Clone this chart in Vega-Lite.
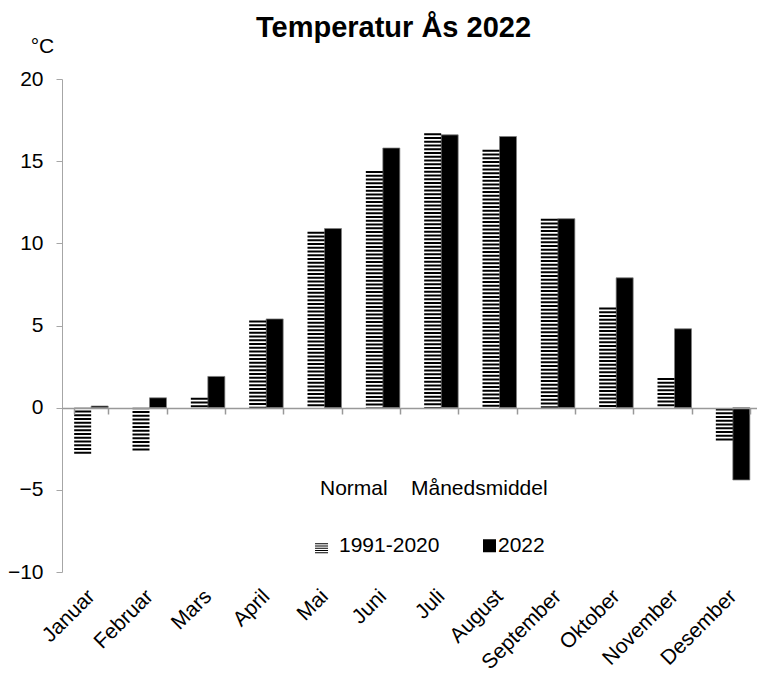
{
  "$schema": "https://vega.github.io/schema/vega-lite/v6.json",
  "width": 695,
  "height": 493,
  "autosize": {"type": "none"},
  "padding": {"left": 62, "top": 79, "right": 0, "bottom": 105},
  "background": "white",
  "config": {
    "font": "Liberation Sans",
    "view": {"stroke": null},
    "axis": {"labelFont": "Liberation Sans", "titleFont": "Liberation Sans", "labelColor": "black", "titleColor": "black"},
    "legend": {"labelFont": "Liberation Sans", "titleFont": "Liberation Sans"}
  },
  "title": {
    "text": "Temperatur Ås 2022",
    "font": "Liberation Sans",
    "fontSize": 29,
    "fontWeight": "bold",
    "color": "black",
    "anchor": "middle",
    "frame": "group",
    "baseline": "alphabetic",
    "offset": -31,
    "dx": -16
  },
  "data": {
    "values": [
      {"month": "Januar", "series": "1991-2020", "value": -2.8},
      {"month": "Januar", "series": "2022", "value": 0.1},
      {"month": "Februar", "series": "1991-2020", "value": -2.6},
      {"month": "Februar", "series": "2022", "value": 0.6},
      {"month": "Mars", "series": "1991-2020", "value": 0.6},
      {"month": "Mars", "series": "2022", "value": 1.9},
      {"month": "April", "series": "1991-2020", "value": 5.3},
      {"month": "April", "series": "2022", "value": 5.4},
      {"month": "Mai", "series": "1991-2020", "value": 10.7},
      {"month": "Mai", "series": "2022", "value": 10.9},
      {"month": "Juni", "series": "1991-2020", "value": 14.4},
      {"month": "Juni", "series": "2022", "value": 15.8},
      {"month": "Juli", "series": "1991-2020", "value": 16.7},
      {"month": "Juli", "series": "2022", "value": 16.6},
      {"month": "August", "series": "1991-2020", "value": 15.7},
      {"month": "August", "series": "2022", "value": 16.5},
      {"month": "September", "series": "1991-2020", "value": 11.5},
      {"month": "September", "series": "2022", "value": 11.5},
      {"month": "Oktober", "series": "1991-2020", "value": 6.1},
      {"month": "Oktober", "series": "2022", "value": 7.9},
      {"month": "November", "series": "1991-2020", "value": 1.8},
      {"month": "November", "series": "2022", "value": 4.8},
      {"month": "Desember", "series": "1991-2020", "value": -2.0},
      {"month": "Desember", "series": "2022", "value": -4.4}
    ]
  },
  "encoding": {
    "x": {
      "field": "month",
      "type": "nominal",
      "sort": null,
      "scale": {"paddingInner": 0.417, "paddingOuter": 0.2085, "range": [0, 700]},
      "axis": {
        "orient": "bottom",
        "offset": -164,
        "zindex": 1,
        "title": null,
        "domain": true,
        "domainColor": "#999999",
        "domainWidth": 1.5,
        "ticks": true,
        "tickColor": "#999999",
        "tickWidth": 1.5,
        "tickSize": 6,
        "tickBand": "extent",
        "labelAngle": -45,
        "labelAlign": "right",
        "labelBaseline": "middle",
        "labelFontSize": 21,
        "labelPadding": 179
      }
    },
    "xOffset": {"field": "series", "type": "nominal", "scale": {"domain": ["1991-2020", "2022"]}},
    "y": {
      "field": "value",
      "type": "quantitative",
      "scale": {"domain": [-10, 20], "nice": false, "zero": false},
      "axis": {
        "values": [-10, -5, 0, 5, 10, 15, 20],
        "grid": false,
        "domainColor": "#a6a6a6",
        "tickColor": "#a6a6a6",
        "tickSize": 6,
        "labelPadding": 13,
        "labelFontSize": 21,
        "title": "°C",
        "titleAngle": 0,
        "titleX": -20,
        "titleY": -27,
        "titleAlign": "center",
        "titleBaseline": "alphabetic",
        "titleFontSize": 21,
        "titleFontWeight": "normal"
      }
    }
  },
  "layer": [
    {
      "transform": [{"filter": "datum.series === '2022'"}],
      "mark": {"type": "bar", "fill": "black", "stroke": "#7f7f7f", "strokeWidth": 0.75}
    },
    {
      "transform": [{"filter": "datum.series === '1991-2020'"}],
      "mark": {"type": "rule", "stroke": "black", "strokeWidth": 17, "strokeDash": [2, 1.75]},
      "encoding": {
        "y2": {"datum": 0}
      }
    },
    {
      "mark": {"type": "point", "filled": true, "opacity": 0, "fill": "black", "strokeWidth": 0},
      "encoding": {
        "shape": {
          "field": "series",
          "type": "nominal",
          "scale": {
            "domain": ["1991-2020", "2022"],
            "range": ["M-2.38,-0.4H-0.38V-0.25H-2.38Z M-2.38,-0.05H-0.38V0.1H-2.38Z M-2.38,0.3H-0.38V0.45H-2.38Z M-2.38,0.65H-0.38V0.8H-2.38Z M-2.38,1H-0.38V1.15H-2.38Z", "square"]
          },
          "legend": {
            "orient": "none",
            "legendX": 258,
            "legendY": 399,
            "direction": "horizontal",
            "title": "Normal\u00a0\u00a0\u00a0\u00a0Månedsmiddel",
            "titleLimit": 500,
            "titleFontSize": 21,
            "titleFontWeight": "normal",
            "titleColor": "black",
            "titlePadding": 36,
            "labelFontSize": 21,
            "labelColor": "black",
            "labelOffset": -2,
            "columnPadding": 39,
            "symbolSize": 169,
            "symbolOpacity": 1,
            "symbolFillColor": "black",
            "symbolStrokeWidth": 0,
            "padding": 0
          }
        }
      }
    }
  ]
}
